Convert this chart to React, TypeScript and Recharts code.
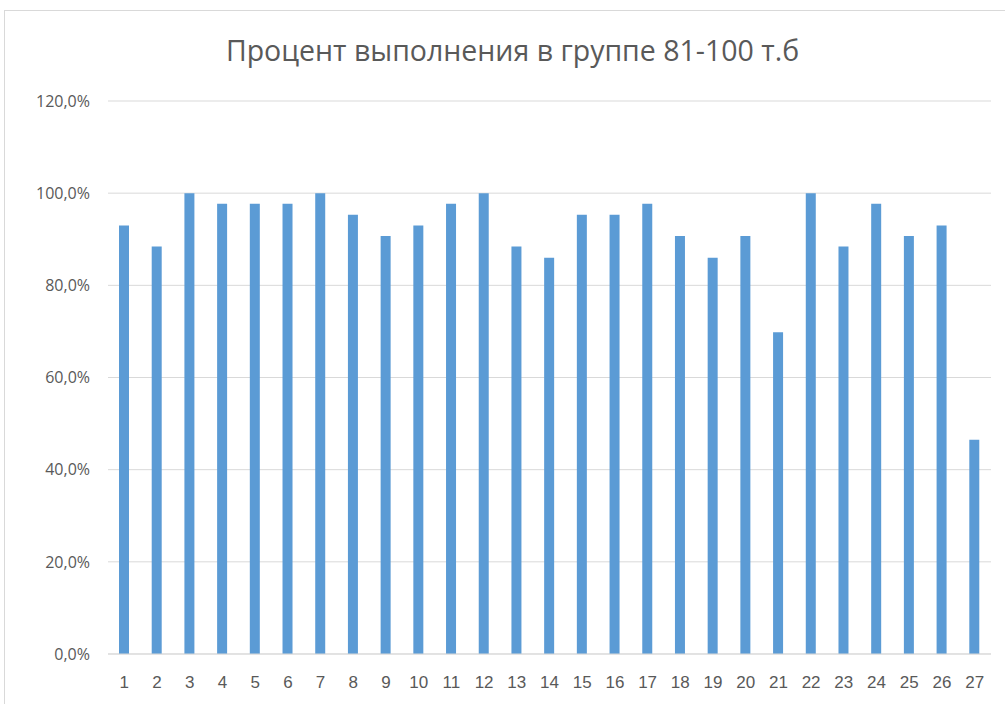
import React from "react";
import { BarChart, Bar, XAxis, YAxis, CartesianGrid } from "recharts";

const groups = [
  "1", "2", "3", "4", "5", "6", "7", "8", "9", "10", "11", "12", "13", "14",
  "15", "16", "17", "18", "19", "20", "21", "22", "23", "24", "25", "26", "27",
];

const percentDone = [
  93.0, 88.4, 100, 97.7, 97.7, 97.7, 100, 95.3, 90.7, 93.0, 97.7, 100, 88.4,
  86.0, 95.3, 95.3, 97.7, 90.7, 86.0, 90.7, 69.8, 100, 88.4, 97.7, 90.7, 93.0,
  46.5,
];

const yTicks = [0, 20, 40, 60, 80, 100, 120];

const chartTitle = "Процент выполнения в группе 81-100 т.б";

const data = groups.map((g, i) => ({ group: g, value: percentDone[i] }));

const fmtPct = (v: number) => `${v.toFixed(1).replace(".", ",")}%`;

const App: React.FC = () => {
  return (
    <div
      style={{
        position: "absolute",
        left: 0,
        top: 0,
        width: 1005,
        height: 704,
        background: "#fff",
        overflow: "hidden",
      }}
    >
      <div
        style={{
          position: "absolute",
          left: 4,
          top: 10,
          width: 1020,
          height: 720,
          border: "1px solid #d9d9d9",
        }}
      />
      <div
        style={{
          position: "absolute",
          left: 0,
          width: 1025,
          top: 31,
          textAlign: "center",
          fontFamily: "'Open Sans', sans-serif",
          fontSize: 28.5,
          color: "#595959",
        }}
      >
        {chartTitle}
      </div>
      <BarChart
        width={1005}
        height={704}
        data={data}
        margin={{ top: 101, right: 14, left: 18, bottom: 20 }}
        style={{ position: "absolute", left: 0, top: 0 }}
      >
        <CartesianGrid vertical={false} stroke="#d9d9d9" />
        <XAxis
          dataKey="group"
          axisLine={{ stroke: "#d9d9d9" }}
          tickLine={false}
          tickMargin={16}
          tick={{ fill: "#595959", fontSize: 17, fontFamily: "'Liberation Sans', sans-serif" }}
          interval={0}
        />
        <YAxis
          width={90}
          domain={[0, 120]}
          ticks={yTicks}
          tickFormatter={fmtPct}
          axisLine={false}
          tickLine={false}
          tickMargin={12}
          tick={{ fill: "#595959", fontSize: 16, fontFamily: "'Open Sans', sans-serif" }}
        />
        <Bar dataKey="value" fill="#5b9bd5" barSize={10} isAnimationActive={false} />
      </BarChart>
    </div>
  );
};

export default App;
